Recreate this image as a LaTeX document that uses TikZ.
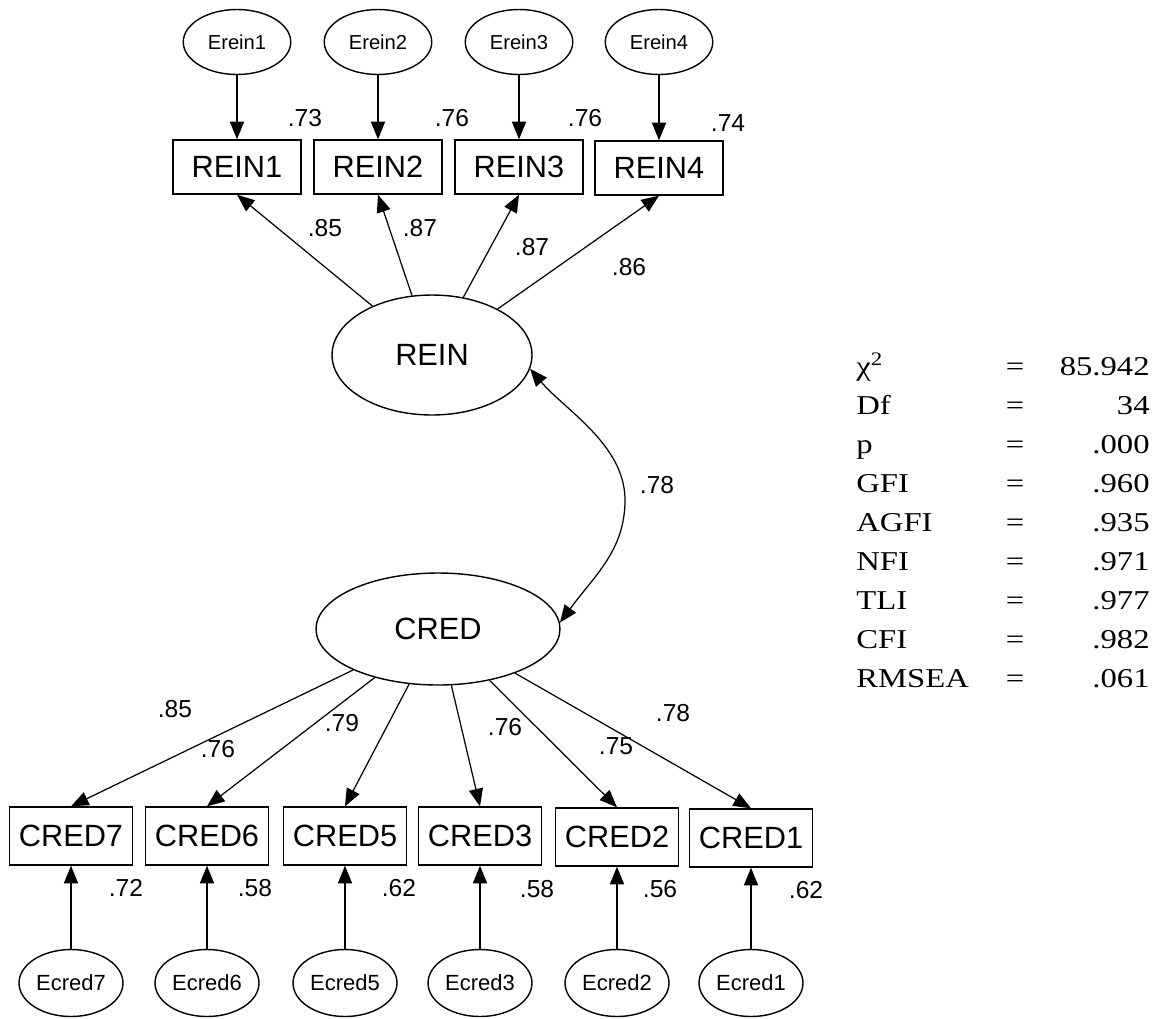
\documentclass[tikz,border=0pt]{standalone}
\usepackage{fontspec}
\setmainfont{Liberation Serif}
\newfontfamily\arialfont{Liberation Sans}
\usetikzlibrary{arrows.meta, shapes.geometric, positioning}
\newcommand{\wide}[1]{\scalebox{1.2}[1]{#1}}
\tikzset{
  >={Triangle[length=10pt,width=8pt]},  % punte piene come nel modello
  % variabili osservate e latenti
  oss/.style={draw,line width=0.8pt,rectangle,minimum width=2.56cm,minimum height=1.08cm,inner sep=0pt,
    font=\arialfont\fontsize{17.5}{20}\selectfont},
  lat/.style={draw,line width=0.8pt,ellipse,inner sep=0pt,font=\arialfont\fontsize{17.5}{20}\selectfont},
  errv/.style={draw,line width=0.8pt,ellipse,minimum width=2.15cm,minimum height=1.3cm,inner sep=0pt,
    font=\arialfont\fontsize{11.5}{14}\selectfont},
  % coefficienti e frecce
  coef/.style={inner sep=0pt,font=\arialfont\fontsize{14}{16}\selectfont},
  path/.style={->,line width=0.7pt},
  % indici di adattamento
  stat/.style={inner sep=0pt,font=\fontsize{15.5}{18}\selectfont}
}

\begin{document}
\begin{tikzpicture}[x=0.02cm,y=-0.02cm]
    \useasboundingbox (0,0) rectangle (1165,1018);
    \node[lat,minimum width=4cm,minimum height=2.4cm] (rein) at (432,355) {REIN};
    \node[lat,minimum width=4.88cm,minimum height=2.24cm] (cred) at (438,629) {CRED};

    \node[oss] (rein1) at (237,167) {REIN1};
    \node[oss] (rein2) at (378,167) {REIN2};
    \node[oss] (rein3) at (519,167) {REIN3};
    \node[oss] (rein4) at (659,168) {REIN4};
    \node[errv] (erein1) at (237,42) {Erein1};
    \node[errv] (erein2) at (378,42) {Erein2};
    \node[errv] (erein3) at (519,42) {Erein3};
    \node[errv] (erein4) at (659,42) {Erein4};

    \node[oss,minimum width=2.46cm,minimum height=1.16cm] (cred7) at (71,836) {CRED7};
    \node[oss,minimum width=2.46cm,minimum height=1.16cm] (cred6) at (207,836) {CRED6};
    \node[oss,minimum width=2.46cm,minimum height=1.16cm] (cred5) at (345,836) {CRED5};
    \node[oss,minimum width=2.46cm,minimum height=1.16cm] (cred3) at (480,836) {CRED3};
    \node[oss,minimum width=2.46cm,minimum height=1.16cm] (cred2) at (617,837) {CRED2};
    \node[oss,minimum width=2.46cm,minimum height=1.16cm] (cred1) at (751,838) {CRED1};
    \node[errv,minimum width=2.08cm,minimum height=1.34cm,font=\arialfont\fontsize{12.5}{14}\selectfont] (ecred7) at (71,983) {Ecred7};
    \node[errv,minimum width=2.08cm,minimum height=1.34cm,font=\arialfont\fontsize{12.5}{14}\selectfont] (ecred6) at (207,983) {Ecred6};
    \node[errv,minimum width=2.08cm,minimum height=1.34cm,font=\arialfont\fontsize{12.5}{14}\selectfont] (ecred5) at (345,983) {Ecred5};
    \node[errv,minimum width=2.08cm,minimum height=1.34cm,font=\arialfont\fontsize{12.5}{14}\selectfont] (ecred3) at (480,983) {Ecred3};
    \node[errv,minimum width=2.08cm,minimum height=1.34cm,font=\arialfont\fontsize{12.5}{14}\selectfont] (ecred2) at (617,983) {Ecred2};
    \node[errv,minimum width=2.08cm,minimum height=1.34cm,font=\arialfont\fontsize{12.5}{14}\selectfont] (ecred1) at (751,983) {Ecred1};

    \draw[path] (erein1) -- (rein1);
    \draw[path] (erein2) -- (rein2);
    \draw[path] (erein3) -- (rein3);
    \draw[path] (erein4) -- (rein4);
    \draw[path] (rein) -- (rein1.south);
    \draw[path] (rein) -- (rein2.south);
    \draw[path] (rein) -- (rein3.south);
    \draw[path] (rein) -- (rein4.south);
    \draw[path] (cred) -- (cred7.north);
    \draw[path] (cred) -- (cred6.north);
    \draw[path] (cred) -- (cred5.north);
    \draw[path] (cred) -- (cred3.north);
    \draw[path] (cred) -- (cred2.north);
    \draw[path] (cred) -- (cred1.north);
    \draw[path] (ecred7) -- (cred7);
    \draw[path] (ecred6) -- (cred6);
    \draw[path] (ecred5) -- (cred5);
    \draw[path] (ecred3) -- (cred3);
    \draw[path] (ecred2) -- (cred2);
    \draw[path] (ecred1) -- (cred1);
    \draw[<->,line width=0.7pt] (rein.-8) .. controls (565,410) and (625,445) .. (625,500)
      .. controls (625,550) and (595,575) .. (cred.3);

    \node[coef] (r2a) at (305,118) {.73};
    \node[coef] (r2b) at (452,118) {.76};
    \node[coef] (r2c) at (585,118) {.76};
    \node[coef] (r2d) at (728,123) {.74};
    \node[coef] (la) at (325,228) {.85};
    \node[coef] (lb) at (420,228) {.87};
    \node[coef] (lc) at (532,247) {.87};
    \node[coef] (ld) at (629,267) {.86};
    \node[coef] (corr) at (657,485) {.78};
    \node[coef] (lg) at (175,709) {.85};
    \node[coef] (lh) at (218,749) {.76};
    \node[coef] (li) at (342,723) {.79};
    \node[coef] (lj) at (505,727) {.76};
    \node[coef] (lk) at (616,746) {.75};
    \node[coef] (ll) at (673,713) {.78};
    \node[coef] (r2g) at (126,888) {.72};
    \node[coef] (r2h) at (255,888) {.58};
    \node[coef] (r2i) at (399,888) {.62};
    \node[coef] (r2j) at (537,889) {.58};
    \node[coef] (r2k) at (660,889) {.56};
    \node[coef] (r2l) at (806,890) {.62};

    \node[stat,anchor=base west] (chiL) at (856,375) {\wide{χ\textsuperscript{2}}};
    \node[stat,anchor=base west] (dfL) at (856,414) {\wide{Df}};
    \node[stat,anchor=base west] (pL) at (856,453) {\wide{p}};
    \node[stat,anchor=base west] (gfiL) at (856,492) {\wide{GFI}};
    \node[stat,anchor=base west] (agfiL) at (856,531) {\wide{AGFI}};
    \node[stat,anchor=base west] (nfiL) at (856,570) {\wide{NFI}};
    \node[stat,anchor=base west] (tliL) at (856,609) {\wide{TLI}};
    \node[stat,anchor=base west] (cfiL) at (856,648) {\wide{CFI}};
    \node[stat,anchor=base west] (rmseaL) at (856,687) {\wide{RMSEA}};
    \node[stat,anchor=base] (chiE) at (1015,375) {\wide{=}};
    \node[stat,anchor=base] (dfE) at (1015,414) {\wide{=}};
    \node[stat,anchor=base] (pE) at (1015,453) {\wide{=}};
    \node[stat,anchor=base] (gfiE) at (1015,492) {\wide{=}};
    \node[stat,anchor=base] (agfiE) at (1015,531) {\wide{=}};
    \node[stat,anchor=base] (nfiE) at (1015,570) {\wide{=}};
    \node[stat,anchor=base] (tliE) at (1015,609) {\wide{=}};
    \node[stat,anchor=base] (cfiE) at (1015,648) {\wide{=}};
    \node[stat,anchor=base] (rmseaE) at (1015,687) {\wide{=}};
    \node[stat,anchor=base east] (chiV) at (1150,375) {\wide{85.942}};
    \node[stat,anchor=base east] (dfV) at (1150,414) {\wide{34}};
    \node[stat,anchor=base east] (pV) at (1150,453) {\wide{.000}};
    \node[stat,anchor=base east] (gfiV) at (1150,492) {\wide{.960}};
    \node[stat,anchor=base east] (agfiV) at (1150,531) {\wide{.935}};
    \node[stat,anchor=base east] (nfiV) at (1150,570) {\wide{.971}};
    \node[stat,anchor=base east] (tliV) at (1150,609) {\wide{.977}};
    \node[stat,anchor=base east] (cfiV) at (1150,648) {\wide{.982}};
    \node[stat,anchor=base east] (rmseaV) at (1150,687) {\wide{.061}};
\end{tikzpicture}
\end{document}
